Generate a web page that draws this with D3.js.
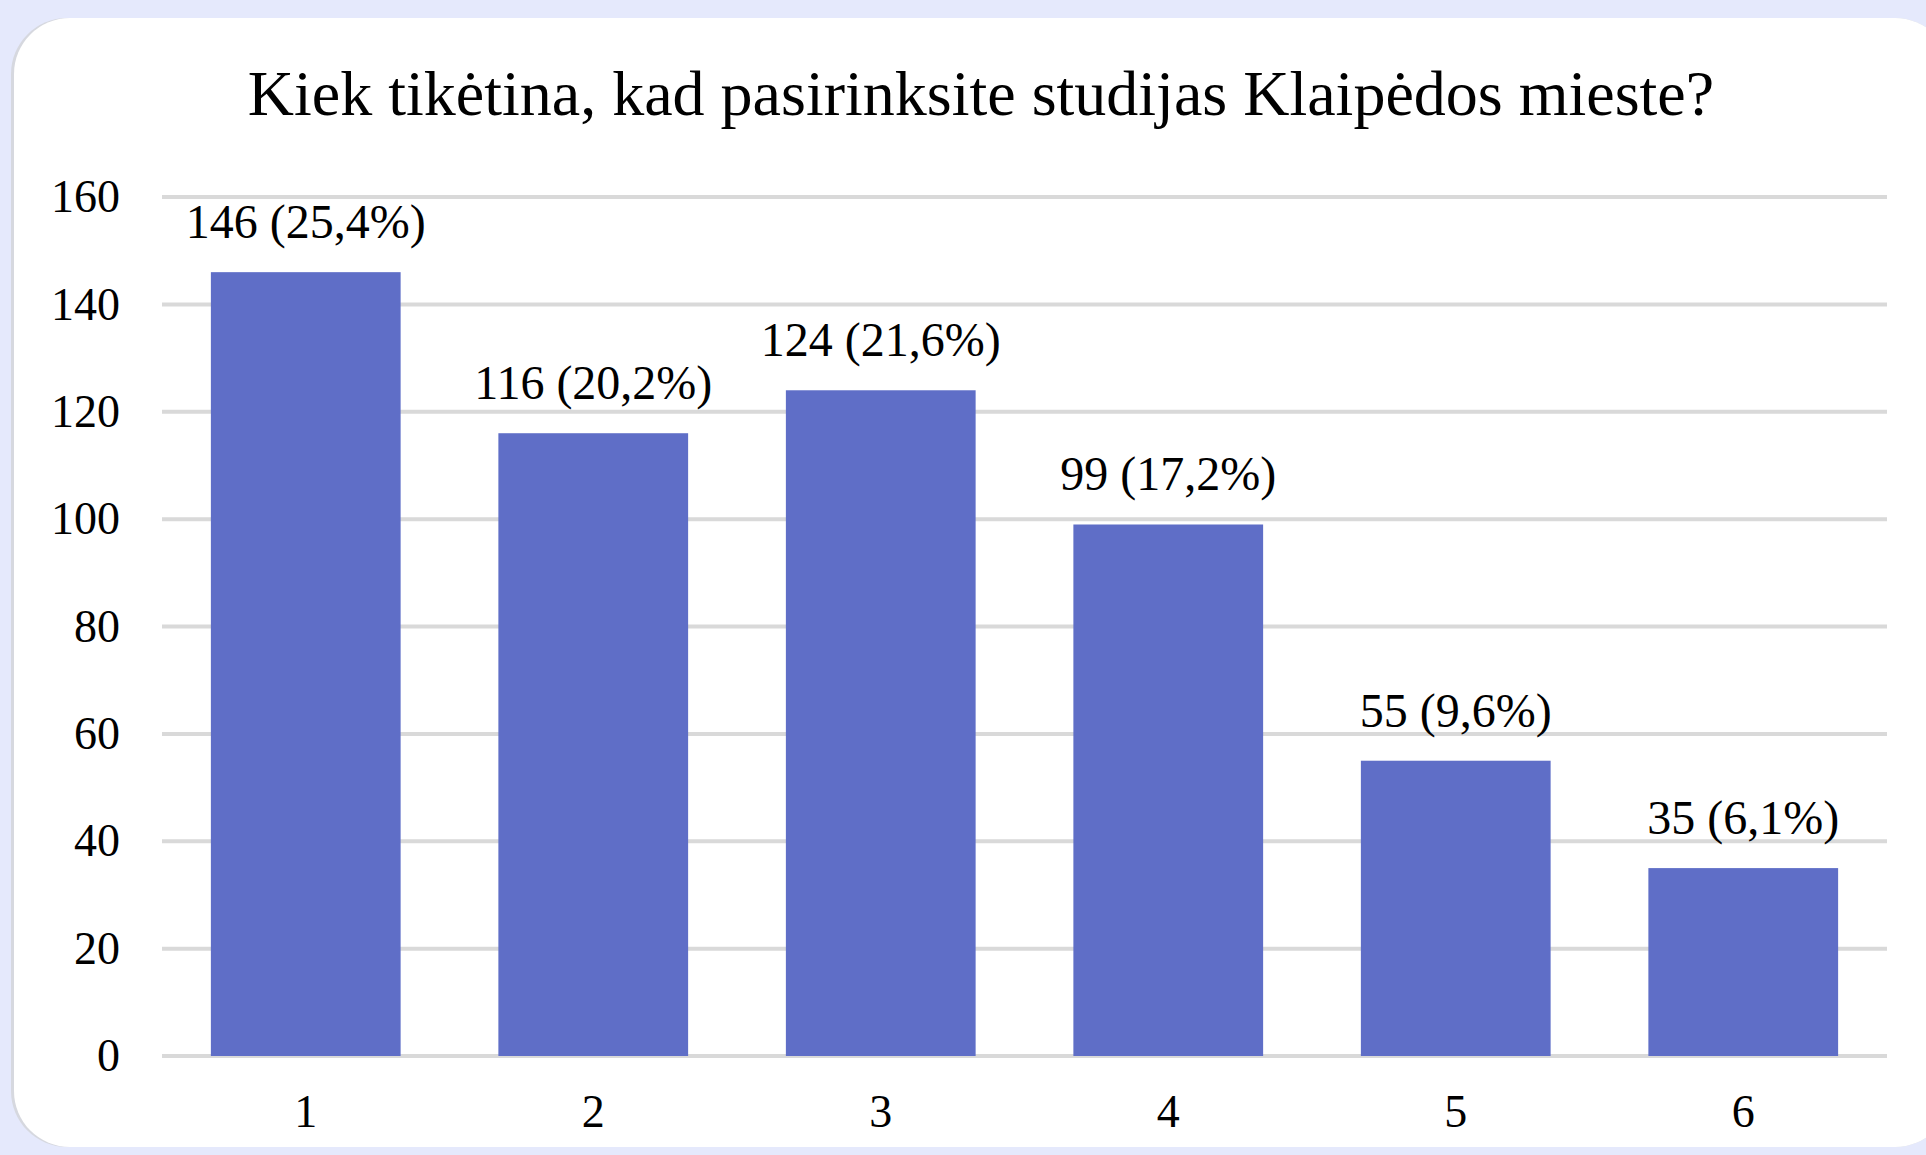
<!DOCTYPE html>
<html>
<head>
<meta charset="utf-8">
<script src="https://cdn.jsdelivr.net/npm/d3@7"></script>
<style>
  html, body { margin: 0; padding: 0; background: #e5e9fc; }
  svg { display: block; }
  text { font-family: "Liberation Serif", "Times New Roman", serif; fill: #000; }
</style>
</head>
<body>
<svg id="chart" width="1926" height="1155"></svg>
<script>
const title = 'Kiek tikėtina, kad pasirinksite studijas Klaipėdos mieste?';
const categories = ['1', '2', '3', '4', '5', '6'];
const counts = [146, 116, 124, 99, 55, 35];
const percents = ['25,4%', '20,2%', '21,6%', '17,2%', '9,6%', '6,1%'];
const yTicks = [0, 20, 40, 60, 80, 100, 120, 140, 160];

const width = 1926;
const height = 1155;
const margin = { top: 197, right: 39, bottom: 99, left: 162 };

const svg = d3.select('#chart');

// card (grey edge behind, white on top)
svg.append('rect')
  .attr('x', 11)
  .attr('y', 18)
  .attr('width', 1940)
  .attr('height', 1129)
  .attr('rx', 56)
  .attr('fill', '#d6d8df');

svg.append('rect')
  .attr('x', 14)
  .attr('y', 18)
  .attr('width', 1937)
  .attr('height', 1129)
  .attr('rx', 56)
  .attr('fill', '#fff');

const data = categories.map((c, i) => ({ cat: c, value: counts[i], pct: percents[i] }));

const x = d3.scaleBand()
  .domain(categories)
  .range([margin.left, width - margin.right])
  .paddingInner(0.34)
  .paddingOuter(0.17);

const y = d3.scaleLinear()
  .domain([0, 160])
  .range([height - margin.bottom, margin.top]);

// gridlines
svg.append('g')
  .selectAll('line')
  .data(yTicks)
  .enter()
  .append('line')
  .attr('x1', margin.left)
  .attr('x2', width - margin.right)
  .attr('y1', (d) => y(d))
  .attr('y2', (d) => y(d))
  .attr('stroke', '#d9d9d9')
  .attr('stroke-width', 4);

// y labels
svg.append('g')
  .selectAll('text')
  .data(yTicks)
  .enter()
  .append('text')
  .attr('x', 120)
  .attr('y', (d) => y(d))
  .attr('dy', '0.33em')
  .attr('text-anchor', 'end')
  .attr('font-size', 46)
  .text((d) => d);

// bars
svg.append('g')
  .selectAll('rect')
  .data(data)
  .enter()
  .append('rect')
  .attr('x', (d) => x(d.cat))
  .attr('y', (d) => y(d.value))
  .attr('width', x.bandwidth())
  .attr('height', (d) => y(0) - y(d.value))
  .attr('fill', '#5f6ec7');

// value labels
svg.append('g')
  .selectAll('text')
  .data(data)
  .enter()
  .append('text')
  .attr('x', (d) => x(d.cat) + x.bandwidth() / 2)
  .attr('y', (d) => y(d.value) - 34)
  .attr('text-anchor', 'middle')
  .attr('font-size', 48)
  .text((d) => `${d.value} (${d.pct})`);

// x labels
svg.append('g')
  .selectAll('text')
  .data(categories)
  .enter()
  .append('text')
  .attr('x', (d) => x(d) + x.bandwidth() / 2)
  .attr('y', 1127)
  .attr('text-anchor', 'middle')
  .attr('font-size', 46)
  .text((d) => d);

// title
svg.append('text')
  .attr('x', 981)
  .attr('y', 115)
  .attr('text-anchor', 'middle')
  .attr('font-size', 64)
  .text(title);
</script>
</body>
</html>
